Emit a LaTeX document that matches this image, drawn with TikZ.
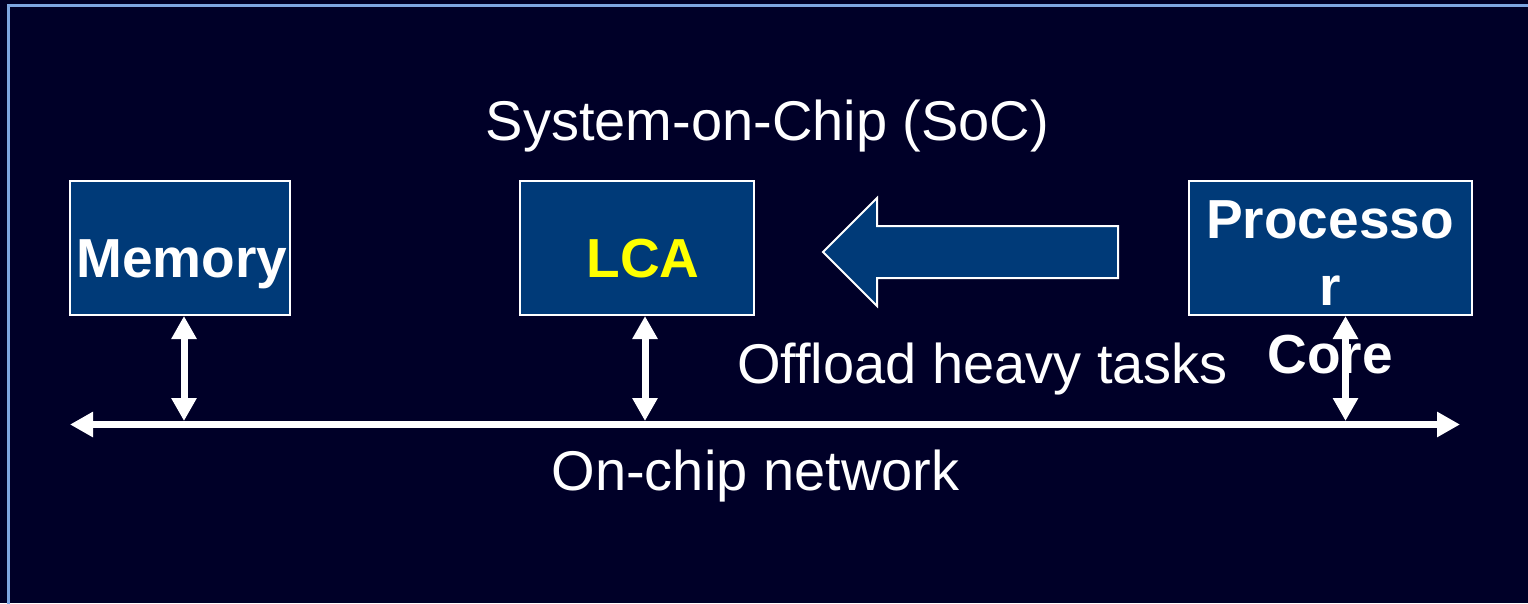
\documentclass[tikz,border=0pt]{standalone}
\usepackage{fontspec}
\setmainfont{Liberation Sans}
\usetikzlibrary{arrows.meta}
\definecolor{slidebg}{HTML}{000028}
\definecolor{framecol}{HTML}{7EA6E2}
\definecolor{boxfill}{HTML}{003A78}
\definecolor{lcayellow}{HTML}{FFFF00}
\tikzset{
  block/.style={draw=white, line width=2pt, fill=boxfill, inner sep=0pt},
  boxtext/.style={text=white, font=\bfseries\fontsize{55}{67.5}\selectfont, inner sep=0pt, anchor=base},
  plaintext/.style={text=white, font=\fontsize{56}{67}\selectfont, inner sep=0pt, anchor=base},
  link/.style={draw=white, line width=7pt, {Triangle[length=23pt,width=24pt]}-{Triangle[length=23pt,width=24pt]}},
  offload/.style={draw=white, line width=2pt, fill=boxfill, line join=miter}
}
\begin{document}
\begin{tikzpicture}[x=1pt,y=-1pt]
  \useasboundingbox (0,0) rectangle (1528,603);
  \fill[slidebg] (0,0) rectangle (1528,603);
  \clip (0,0) rectangle (1528,603);
  % slide frame, running off the right and bottom edges
  \draw[framecol, line width=2.5pt] (8.5,5.3) rectangle (1560,640);

  % title
  \node[plaintext] (title) at (767.5,140) {System-on-Chip (SoC)};

  % blocks
  \node[block, minimum width=220pt, minimum height=134pt] (mem) at (180,248) {};
  \node[block, minimum width=234pt, minimum height=134pt] (lca) at (637,248) {};
  \node[block, minimum width=283pt, minimum height=134pt] (proc) at (1330.5,248) {};

  \node[boxtext] (memtext) at (182,277) {Memory};
  \node[boxtext, text=lcayellow] (lcatext) at (643,277) {LCA};

  % offload arrow
  \draw[offload] (823,252) -- (877,198) -- (877,226) -- (1118,226)
    -- (1118,278) -- (877,278) -- (877,306) -- cycle;
  \node[plaintext] (offtext) at (982.5,383.5) {Offload heavy tasks};

  % on-chip network
  \coordinate (busL) at (70,424.5);
  \coordinate (busR) at (1460,424.5);
  \draw[link] (busL) -- (busR);
  \node[plaintext] (nettext) at (755.5,490) {On-chip network};

  % taps onto the network
  \coordinate (tapM) at (184,421);
  \coordinate (tapL) at (645,421);
  \coordinate (tapP) at (1345.5,421);

  % processor label overflows its block (base = last line)
  \node[boxtext, align=center] (proctext) at (1330,373) {Processo\\r\\Core};

  \draw[link] (mem.south -| tapM) -- (tapM);
  \draw[link] (lca.south -| tapL) -- (tapL);
  \draw[link] (proc.south -| tapP) -- (tapP);
\end{tikzpicture}
\end{document}
